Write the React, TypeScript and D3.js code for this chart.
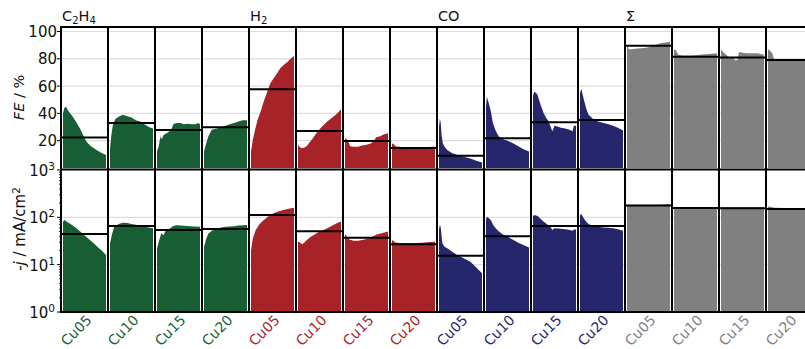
import React from "react";
import * as d3 from "d3";

// Catalysts and product groups
const categories = ["Cu05", "Cu10", "Cu15", "Cu20"];
const productColors = ["#175e34", "#a82327", "#26266c", "#808080"];

// Faradaic efficiency traces: [fraction of run, FE %]
const feC2H4: number[][][] = [
  [[0, 40], [0.03, 44], [0.07, 45], [0.12, 42], [0.22, 38], [0.32, 33], [0.41, 28], [0.5, 22], [0.55, 19], [0.65, 16], [0.79, 13], [0.9, 11], [1, 9.5]],
  [[0, 14], [0.03, 24], [0.07, 32], [0.13, 36], [0.22, 38], [0.3, 39], [0.4, 38], [0.5, 37], [0.6, 35], [0.7, 34], [0.8, 32], [0.9, 30], [1, 29]],
  [[0, 12], [0.04, 16], [0.08, 23], [0.11, 21], [0.15, 24], [0.25, 26], [0.33, 28], [0.38, 32], [0.45, 33], [0.55, 33], [0.62, 32], [0.7, 32.5], [0.8, 32], [0.9, 32], [0.95, 33], [1, 32]],
  [[0, 12], [0.05, 18], [0.1, 23], [0.18, 28], [0.3, 29], [0.4, 30], [0.5, 31], [0.6, 32], [0.7, 33], [0.8, 34], [0.9, 35], [1, 35]],
];
const feH2: number[][][] = [
  [[0, 12], [0.04, 20], [0.08, 26], [0.15, 35], [0.23, 42], [0.3, 49], [0.38, 56], [0.45, 62], [0.53, 66], [0.6, 69], [0.68, 73], [0.76, 75.5], [0.84, 77.5], [0.92, 80], [1, 82]],
  [[0, 17], [0.05, 15], [0.12, 14.5], [0.2, 16], [0.25, 18], [0.35, 22], [0.45, 26.5], [0.55, 30], [0.68, 34], [0.8, 37], [0.91, 40], [1, 43]],
  [[0, 22], [0.04, 21], [0.08, 19], [0.12, 16], [0.2, 15.5], [0.3, 15.5], [0.4, 16.5], [0.5, 17], [0.6, 18], [0.68, 20], [0.72, 22.5], [0.8, 23], [0.9, 24.5], [1, 25.5]],
  [[0, 18], [0.04, 17.5], [0.08, 16], [0.15, 15.5], [0.3, 15.2], [0.5, 15], [0.7, 15], [0.85, 15.3], [0.95, 15.6], [1, 15.5]],
];
const feCO: number[][][] = [
  [[0, 30], [0.02, 36], [0.04, 33], [0.06, 24], [0.09, 18], [0.14, 15], [0.2, 13], [0.3, 11], [0.43, 9.5], [0.55, 8.5], [0.73, 7], [0.85, 5.5], [1, 4]],
  [[0, 45], [0.02, 52], [0.06, 48], [0.11, 42], [0.16, 33], [0.23, 27], [0.3, 23], [0.4, 21], [0.5, 20], [0.64, 18], [0.75, 16], [0.86, 14], [1, 12]],
  [[0, 53], [0.03, 56], [0.1, 54], [0.18, 46], [0.25, 40], [0.32, 36], [0.37, 34], [0.4, 31], [0.45, 27], [0.5, 31], [0.55, 30.5], [0.65, 29.5], [0.75, 29], [0.85, 28], [0.92, 27], [0.95, 31], [1, 31]],
  [[0, 55], [0.03, 58], [0.09, 50], [0.15, 43], [0.2, 39], [0.3, 36], [0.42, 34], [0.55, 33], [0.66, 32], [0.77, 31], [0.88, 29.5], [1, 27.5]],
];
const feSum: number[][][] = [
  [[0, 91], [0.04, 87], [0.1, 87], [0.25, 87.5], [0.4, 88], [0.5, 88.5], [0.6, 89.5], [0.7, 90.5], [0.8, 91.5], [0.9, 92], [1, 92.5]],
  [[0, 87], [0.05, 86], [0.1, 83], [0.2, 82.5], [0.4, 82.5], [0.6, 83], [0.8, 83.5], [1, 84]],
  [[0, 87], [0.05, 85], [0.12, 83], [0.2, 81], [0.28, 81], [0.33, 79], [0.38, 79], [0.42, 85], [0.5, 84.5], [0.6, 84], [0.7, 84], [0.85, 84], [1, 83]],
  [[0, 87], [0.04, 86], [0.1, 84], [0.15, 79], [0.3, 78.8], [0.6, 78.7], [1, 78.5]],
];

// Run-averaged FE %
const feMeanC2H4 = [22.4, 33, 27.8, 29.8];
const feMeanH2 = [57.7, 27.1, 19.8, 14.6];
const feMeanCO = [9.0, 21.8, 33.5, 35.2];
const feMeanSum = [89.6, 81.5, 81, 79.1];

// Partial current density traces: [fraction of run, -j mA/cm²]
const jC2H4: number[][][] = [
  [[0, 80], [0.03, 88], [0.1, 80], [0.2, 70], [0.3, 60], [0.4, 50], [0.5, 42], [0.6, 35], [0.7, 29], [0.8, 24], [0.9, 20], [1, 16]],
  [[0, 28], [0.05, 45], [0.1, 63], [0.2, 72], [0.3, 77], [0.4, 76], [0.5, 72], [0.6, 70], [0.7, 67], [0.8, 64], [0.9, 61], [1, 59]],
  [[0, 22], [0.04, 30], [0.1, 46], [0.15, 42], [0.2, 52], [0.3, 58], [0.38, 66], [0.45, 68], [0.55, 67], [0.7, 66], [0.85, 64], [1, 63]],
  [[0, 24], [0.05, 35], [0.1, 45], [0.18, 52], [0.3, 58], [0.4, 61], [0.5, 63], [0.6, 64], [0.7, 65], [0.8, 67], [0.9, 68], [1, 69]],
];
const jH2: number[][][] = [
  [[0, 20], [0.04, 35], [0.11, 54], [0.2, 72], [0.3, 88], [0.4, 104], [0.52, 122], [0.63, 133], [0.75, 143], [0.87, 152], [1, 160]],
  [[0, 31], [0.05, 29], [0.1, 27], [0.16, 30], [0.22, 34], [0.3, 39], [0.36, 42], [0.45, 47], [0.55, 52], [0.68, 59], [0.8, 67], [0.9, 75], [1, 82]],
  [[0, 44], [0.04, 40], [0.1, 34], [0.2, 32], [0.3, 32], [0.4, 33], [0.5, 35], [0.6, 38], [0.68, 41], [0.75, 44], [0.85, 46], [1, 50]],
  [[0, 33], [0.05, 31], [0.1, 29], [0.3, 28.5], [0.5, 28.5], [0.7, 29], [0.9, 30], [1, 30.5]],
];
const jCO: number[][][] = [
  [[0, 55], [0.02, 70], [0.04, 62], [0.06, 40], [0.08, 28], [0.13, 24], [0.2, 22], [0.3, 19], [0.42, 16], [0.55, 14], [0.73, 11.5], [0.85, 9], [1, 6.6]],
  [[0, 90], [0.02, 103], [0.06, 97], [0.11, 88], [0.17, 68], [0.23, 58], [0.3, 50], [0.4, 43], [0.5, 39], [0.64, 33], [0.75, 29], [0.87, 26], [1, 23]],
  [[0, 105], [0.03, 112], [0.11, 107], [0.18, 92], [0.25, 81], [0.32, 72], [0.37, 67], [0.42, 60], [0.45, 54], [0.5, 59], [0.6, 58], [0.7, 57], [0.8, 55], [0.92, 52], [0.95, 55], [1, 55]],
  [[0, 110], [0.03, 118], [0.09, 95], [0.15, 80], [0.2, 72], [0.3, 66], [0.41, 63], [0.55, 61], [0.66, 60], [0.77, 58.6], [0.88, 56], [1, 52]],
];
const jSum: number[][][] = [
  [[0, 182], [0.1, 181], [0.3, 182], [0.5, 183], [0.7, 184], [0.85, 186], [0.95, 190], [1, 188]],
  [[0, 168], [0.05, 166], [0.2, 164], [0.5, 163], [0.8, 163], [1, 163]],
  [[0, 168], [0.05, 166], [0.3, 165], [0.5, 165], [0.7, 166], [1, 165]],
  [[0, 170], [0.05, 167], [0.15, 160], [0.4, 157], [0.7, 156], [1, 155]],
];

// Run-averaged -j, mA/cm²
const jMeanC2H4 = [44.5, 65.6, 54, 57];
const jMeanH2 = [112, 51, 37, 27];
const jMeanCO = [15.5, 40, 65.6, 65.6];
const jMeanSum = [178, 157, 156, 150];

// Axis ticks
const feTicks = [20, 40, 60, 80, 100];
const jTicks = [1, 10, 100, 1000];

const FONT = "DejaVu Sans";
const W = 805;
const H = 349;
const LEFT = 61;
const PANEL_W = 47;
const TOP = 27;
const FE_BOTTOM = 168;
const J_TOP = 170;
const J_BOTTOM = 312;

const feGroups = [feC2H4, feH2, feCO, feSum];
const feMeanGroups = [feMeanC2H4, feMeanH2, feMeanCO, feMeanSum];
const jGroups = [jC2H4, jH2, jCO, jSum];
const jMeanGroups = [jMeanC2H4, jMeanH2, jMeanCO, jMeanSum];

function Title({ idx, x, y }: { idx: number; x: number; y: number }) {
  const common = { x, y, fontFamily: FONT, fontSize: 14.5, fill: "#111" };
  if (idx === 0)
    return (
      <text {...common}>
        C<tspan dy={3} fontSize={10}>2</tspan>
        <tspan dy={-3}>H</tspan>
        <tspan dy={3} fontSize={10}>4</tspan>
      </text>
    );
  if (idx === 1)
    return (
      <text {...common}>
        H<tspan dy={3} fontSize={10}>2</tspan>
      </text>
    );
  if (idx === 2) return <text {...common}>CO</text>;
  return <text {...common}>Σ</text>;
}

export default function App() {
  const nPanels = 4 * categories.length;
  const xBand = d3
    .scaleLinear()
    .domain([0, nPanels])
    .range([LEFT, LEFT + nPanels * PANEL_W]);

  const yFE = d3.scaleLinear().domain([0, 103.3]).range([FE_BOTTOM, TOP]);
  const yJ = d3.scaleLog().domain([1, 1000]).range([J_BOTTOM, J_TOP]);

  const panels: any[] = [];
  feGroups.forEach((grp, g) => {
    grp.forEach((series, c) => {
      const i = g * categories.length + c;
      const x0 = xBand(i);
      const x1 = xBand(i + 1);
      const xt = d3.scaleLinear().domain([0, 1]).range([x0 + 2, x1 - 2]);
      const areaFE = d3
        .area<number[]>()
        .x((d) => xt(d[0]))
        .y0(FE_BOTTOM)
        .y1((d) => yFE(d[1]));
      const areaJ = d3
        .area<number[]>()
        .x((d) => xt(d[0]))
        .y0(J_BOTTOM)
        .y1((d) => yJ(d[1]));
      panels.push({
        i,
        g,
        c,
        x0,
        x1,
        color: productColors[g],
        fePath: areaFE(series),
        jPath: areaJ(jGroups[g][c]),
        feMean: yFE(feMeanGroups[g][c]),
        jMean: yJ(jMeanGroups[g][c]),
      });
    });
  });

  const minorTicks: number[] = [];
  for (let dec = 1; dec < 1000; dec *= 10)
    for (let k = 2; k <= 9; k++) minorTicks.push(dec * k);

  const right = xBand(nPanels);

  return (
    <svg
      width={W}
      height={H}
      style={{ position: "absolute", left: 0, top: 0, background: "#fff" }}
    >
      {/* gridlines */}
      {feTicks.map((t) => (
        <line key={"gf" + t} x1={LEFT} x2={right} y1={yFE(t)} y2={yFE(t)} stroke="#dddddd" strokeWidth={1.2} />
      ))}
      {[10, 100].map((t) => (
        <line key={"gj" + t} x1={LEFT} x2={right} y1={yJ(t)} y2={yJ(t)} stroke="#dddddd" strokeWidth={1.2} />
      ))}

      {/* traces */}
      {panels.map((p) => (
        <g key={"p" + p.i}>
          <path d={p.fePath} fill={p.color} />
          <path d={p.jPath} fill={p.color} />
        </g>
      ))}

      {/* run averages */}
      {panels.map((p) => (
        <g key={"m" + p.i}>
          <line x1={p.x0} x2={p.x1} y1={p.feMean} y2={p.feMean} stroke="#000" strokeWidth={2} />
          <line x1={p.x0} x2={p.x1} y1={p.jMean} y2={p.jMean} stroke="#000" strokeWidth={2} />
        </g>
      ))}

      {/* panel frames */}
      {d3.range(nPanels + 1).map((i) => (
        <line key={"v" + i} x1={xBand(i)} x2={xBand(i)} y1={TOP - 1} y2={J_BOTTOM + 1} stroke="#000" strokeWidth={2} />
      ))}
      {[TOP, J_TOP - 0.5, J_BOTTOM].map((y, k) => (
        <line key={"h" + k} x1={LEFT - 1} x2={right} y1={y} y2={y} stroke="#000" strokeWidth={2} />
      ))}

      {/* FE axis */}
      {feTicks.map((t) => (
        <g key={"tf" + t}>
          <line x1={LEFT - 4} x2={LEFT} y1={yFE(t)} y2={yFE(t)} stroke="#000" strokeWidth={1} />
          <text x={LEFT - 4} y={yFE(t) + 5.5} textAnchor="end" fontFamily={FONT} fontSize={15} fill="#111">
            {t}
          </text>
        </g>
      ))}

      {/* current density axis */}
      {jTicks.map((t) => (
        <g key={"tj" + t}>
          <line x1={LEFT - 4} x2={LEFT} y1={yJ(t)} y2={yJ(t)} stroke="#000" strokeWidth={1} />
          <text x={LEFT - 6} y={yJ(t) + 6} textAnchor="end" fontFamily={FONT} fontSize={15} fill="#111">
            10<tspan dy={-6} fontSize={10.5}>{Math.round(Math.log10(t))}</tspan>
          </text>
        </g>
      ))}
      {minorTicks.map((t) => (
        <line key={"mt" + t} x1={LEFT - 2} x2={LEFT} y1={yJ(t)} y2={yJ(t)} stroke="#000" strokeWidth={0.8} />
      ))}

      {/* axis titles */}
      <text
        transform={`translate(24,${(TOP + FE_BOTTOM) / 2}) rotate(-90)`}
        textAnchor="middle"
        fontFamily={FONT}
        fontSize={14.5}
        fill="#111"
      >
        <tspan fontStyle="italic">FE</tspan> / %
      </text>
      <text
        transform={`translate(25,${(J_TOP + J_BOTTOM) / 2 - 12}) rotate(-90)`}
        textAnchor="middle"
        fontFamily={FONT}
        fontSize={15}
        fill="#111"
      >
        -<tspan fontStyle="italic">j</tspan> / mA/cm<tspan dy={-5} fontSize={10.5}>2</tspan>
      </text>

      {/* product titles */}
      {[0, 1, 2, 3].map((g) => (
        <Title key={"t" + g} idx={g} x={xBand(g * categories.length) + 1} y={21} />
      ))}

      {/* catalyst labels */}
      {panels.map((p) => {
        const cx = (p.x0 + p.x1) / 2 + 8;
        const cy = 321;
        return (
          <text
            key={"l" + p.i}
            transform={`translate(${cx},${cy}) rotate(-45)`}
            textAnchor="end"
            fontFamily={FONT}
            fontSize={14}
            fill={p.color}
          >
            {categories[p.c]}
          </text>
        );
      })}
    </svg>
  );
}
